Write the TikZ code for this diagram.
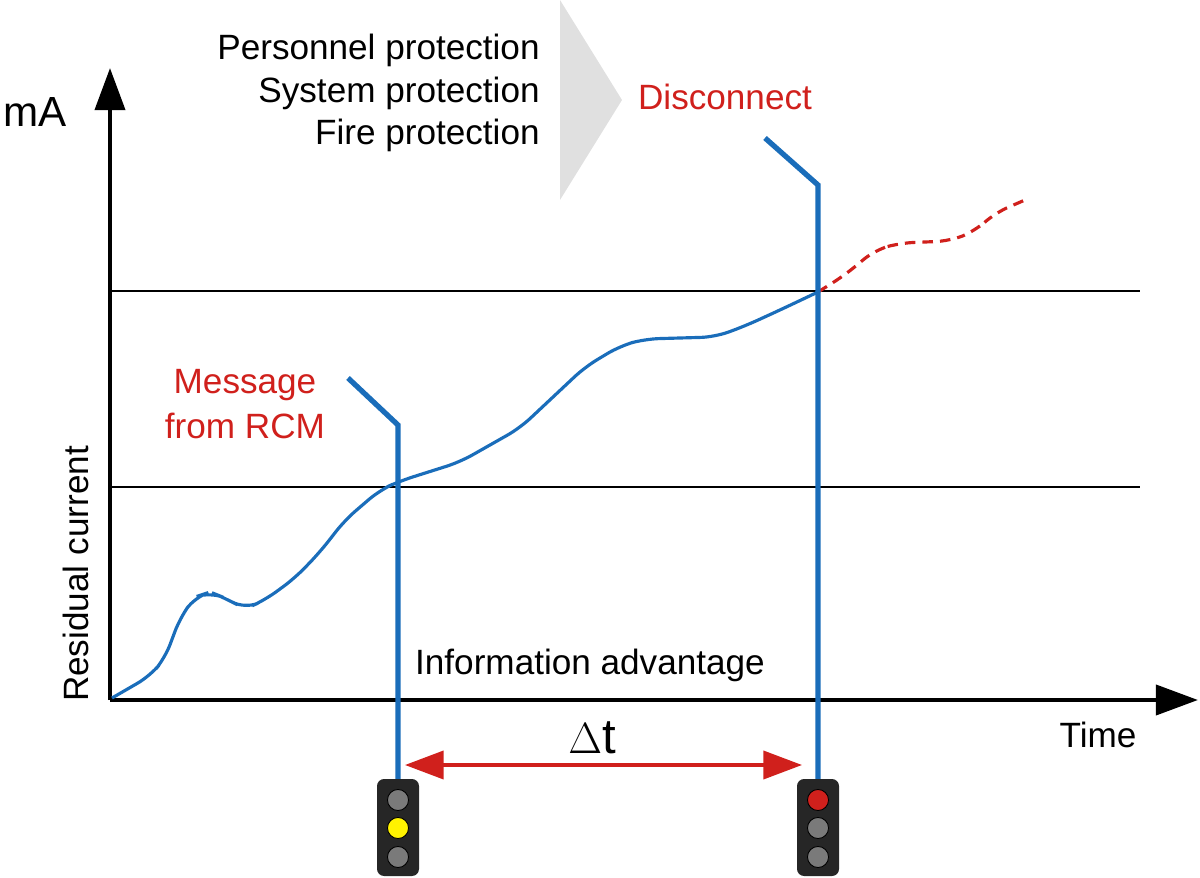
\documentclass[tikz,border=0pt]{standalone}
\usepackage{fontspec}
\setmainfont{Liberation Sans}
\usetikzlibrary{arrows.meta, positioning}
\definecolor{rcmblue}{HTML}{1A6DBA}
\definecolor{rcmred}{HTML}{D0201C}
\definecolor{lampgrey}{HTML}{7A7A7A}
\begin{document}
\begin{tikzpicture}[x=0.02cm, y=-0.02cm,
    axis/.style={line width=2.6pt, -{Triangle[length=24pt,width=17pt]}},
    level/.style={line width=0.9pt},
    trip/.style={rcmblue, line width=3pt},
    lbl/.style={font=\fontsize{20}{24}\selectfont, inner sep=0pt},
    lamp/.style={circle, draw=black, line width=0.5pt, minimum size=24pt*0.5, inner sep=0pt}]
    \useasboundingbox (0,0) rectangle (1200,878);
    % chevron and protection list
    \fill[black!12] (560,0) -- (622,100) -- (560,200) -- cycle;
    \node[lbl, anchor=east] (p1) at (540,50)  {Personnel protection};
    \node[lbl, anchor=east] (p2) at (540,93)  {System protection};
    \node[lbl, anchor=east] (p3) at (540,135) {Fire protection};
    \node[lbl, rcmred] (dis) at (725,97) {Disconnect};
    % axes
    \coordinate (O) at (110,700);
    \coordinate (ytop) at (110,68);
    \coordinate (xend) at (1198,700);
    \draw[axis] (O) -- (ytop);
    \draw[axis] (O) -- (xend);
    \node[lbl, font=\fontsize{24}{28}\selectfont] (ma) at (35,112) {mA};
    \node[lbl, rotate=90] (rc) at (76,574) {Residual current};
    \node[lbl] (time) at (1098,735) {Time};
    % threshold lines
    \draw[level] (110,291) -- (1140,291);
    \draw[level] (110,487) -- (1140,487);
    % residual current curve
    \draw[rcmblue, line width=1.8pt, rounded corners=8pt]
      (112,698) -- (150,676) -- (165,658) -- (180,618) -- (195,597) -- (210,592)
      -- (225,598) -- (245,609) -- (265,600) -- (295,578) -- (320,552) -- (345,520)
      -- (380,490) -- (400,481) -- (460,462) -- (520,428) -- (585,367) -- (620,346)
      -- (645,339) -- (715,337) -- (745,326) -- (780,310) -- (818,292);
    \draw[rcmred, line width=1.8pt, dash pattern=on 6pt off 4pt, rounded corners=8pt]
      (818,292) -- (845,275) -- (875,250) -- (900,243) -- (950,241) -- (975,231)
      -- (995,213) -- (1025,200);
    % message / disconnect markers
    \node[lbl, rcmred, align=center] (msg) at (245,404) {Message\\[2pt]from RCM};
    \draw[trip] (348,378) -- (398,425) -- (398,785);
    \draw[trip] (765,138) -- (818,185) -- (818,785);
    \node[lbl] (info) at (590,665) {Information advantage};
    % delta t
    \coordinate (dl) at (405,765);
    \coordinate (dr) at (802,765);
    \draw[rcmred, line width=2pt, {Triangle[length=22pt,width=16pt]}-{Triangle[length=22pt,width=16pt]}] (dl) -- (dr);
    \node[font=\fontsize{28}{32}\selectfont] (dt) at (592,738) {$\Delta$t};
    % traffic lights
    \foreach \name/\x/\ca/\cb/\cc in {yel/398/lampgrey/yellow/lampgrey, stop/818/rcmred/lampgrey/lampgrey}{
      \fill[black!85, rounded corners=4pt] (\x-21,779) rectangle (\x+21,876);
      \node[lamp, fill=\ca] (\name1) at (\x,800) {};
      \node[lamp, fill=\cb] (\name2) at (\x,828) {};
      \node[lamp, fill=\cc] (\name3) at (\x,857) {};
    }
\end{tikzpicture}
\end{document}
